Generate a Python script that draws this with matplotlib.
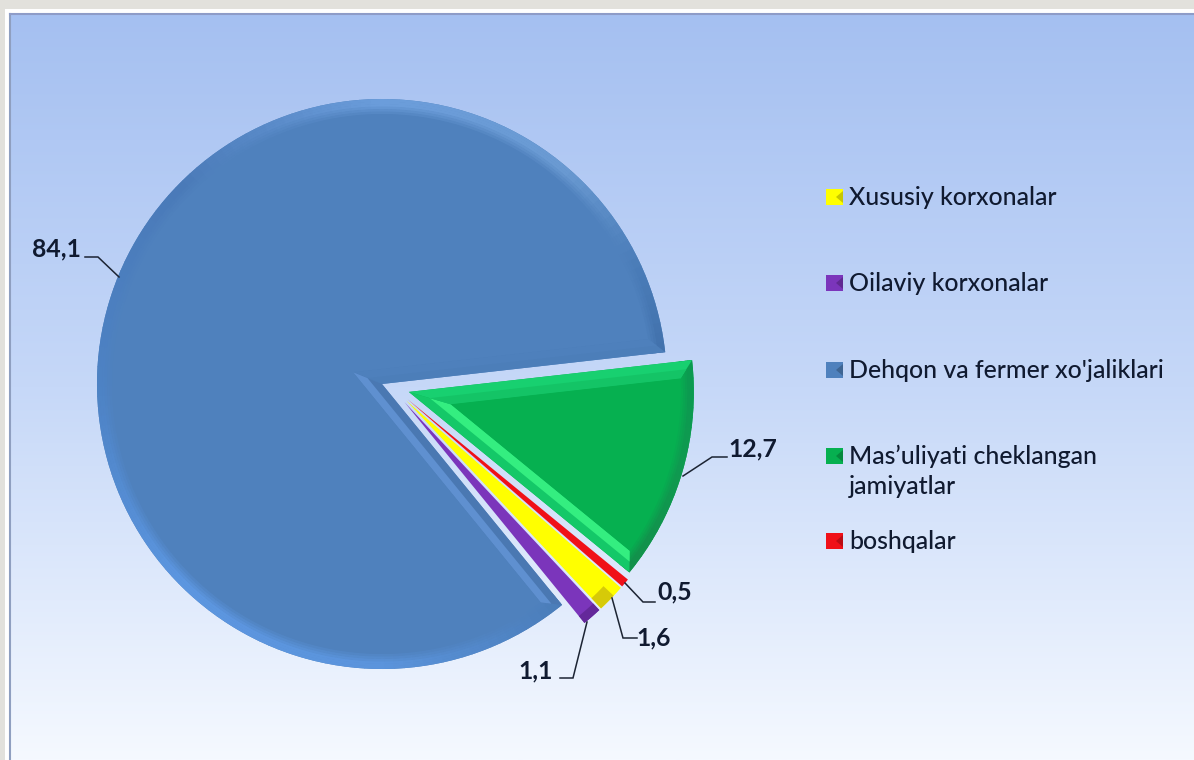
import numpy as np
import matplotlib
matplotlib.use('Agg')
import matplotlib.pyplot as plt
from matplotlib.colors import LinearSegmentedColormap, to_rgb
from matplotlib.patches import Wedge, Polygon, Rectangle

# ── data ──
labels = ['Xususiy korxonalar', 'Oilaviy korxonalar', "Dehqon va fermer xo'jaliklari",
          'Mas\u2019uliyati cheklangan\njamiyatlar', 'boshqalar']
values = [1.6, 1.1, 84.1, 12.7, 0.5]
value_text = ['1,6', '1,1', '84,1', '12,7', '0,5']
colors = ['#ffff00', '#7b35bb', '#4f81bd', '#06b050', '#f01018']

W, H = 1194, 760
TXT = '#101a30'
plt.rcParams['font.family'] = ['Lato', 'DejaVu Sans']


def py(y):
    # picture rows run downwards, the axes upwards
    return H - y


def mix(c1, c2, t):
    return tuple((1 - t) * a + t * b for a, b in zip(to_rgb(c1), to_rgb(c2)))


def pt(c, r, deg):
    return (c[0] + r * np.cos(np.radians(deg)), c[1] + r * np.sin(np.radians(deg)))


def halfway(p, q):
    return ((p[0] + q[0]) / 2, (p[1] + q[1]) / 2)


def strip(ax, a, b, c, d, outer, inner):
    # edge strip a-b (slice edge) to d-c (face side), outer half then inner half
    ax.add_patch(Polygon([a, b, c, d], fc=outer, ec='none'))
    ax.add_patch(Polygon([halfway(a, d), halfway(b, c), c, d], fc=inner, ec='none'))


def bevel(ax, w, face, stops, lo, hi, inset, rim):
    # rim ring, shaded by angle, then the two edge strips and the flat face
    c, r, t1, t2 = w.center, w.r, w.theta1, w.theta2
    ang = [s[0] for s in stops]
    rgb = np.array([to_rgb(s[1]) for s in stops])
    for a in np.arange(t1, t2, 2.0):
        m = (a + 1.0) % 360
        col = [np.interp(m, ang, rgb[:, i]) for i in range(3)]
        end = min(a + 2.2, t2)
        for k in range(6):
            outer = r - rim * k / 6
            blend = 0.0 if k < 3 else (k - 2) / 4
            ax.add_patch(Wedge(c, outer, a, end, width=rim / 6 + 0.5,
                               fc=mix(col, face, blend), ec='none', lw=0))
    half = (t2 - t1) / 2
    mid = t1 + half
    apex_in = pt(c, inset / np.sin(np.radians(half)), mid)
    dt = np.degrees(np.arcsin(inset / (r - rim)))
    arc = np.linspace(t1 + dt, t2 - dt, 200)
    arc_pts = [pt(c, r - rim, a) for a in arc]
    strip(ax, c, pt(c, r, t1), arc_pts[0], apex_in, lo[0], lo[1])
    strip(ax, c, pt(c, r, t2), arc_pts[-1], apex_in, hi[0], hi[1])
    ax.add_patch(Polygon([apex_in] + arc_pts, fc=face, ec='none'))


fig = plt.figure(figsize=(W / 100, H / 100), dpi=100, facecolor='#e2e1dc')
ax = fig.add_axes([0, 0, 1, 1])

# ── panel background ──
ax.add_patch(Rectangle((5, 0), W, py(9), fc='white', ec='none', zorder=0))
bg = LinearSegmentedColormap.from_list('bg', ['#a5c0f1', '#c6d8f8', '#f5f9ff'])
ax.imshow(np.linspace(0, 1, 256).reshape(-1, 1), cmap=bg, aspect='auto',
          extent=(10, W, 0, py(15)), zorder=0.5)
ax.plot([10, 10], [0, py(14)], color='#8f9fc0', lw=1.5, zorder=0.6)
ax.plot([10, W], [py(14), py(14)], color='#8e9cc8', lw=1.5, zorder=0.6)

# ── pie ──
wedges, _ = ax.pie(values, colors=colors, explode=[28, 28, 0, 28, 28], startangle=-41.1,
                   counterclock=False, center=(382, py(384)), radius=285, frame=True,
                   wedgeprops={'lw': 0})
# the thin slices sit slightly off their bisector in the original
for i in (0, 1, 4):
    cx, cy = wedges[i].center
    wedges[i].set_center((cx + 4, cy + 3))

blue_rim = [(0, '#3f6ea8'), (25, '#4a7cb8'), (50, '#6a9ad2'), (90, '#6b9ddb'), (135, '#4a7ab8'),
            (180, '#4d82c4'), (225, '#5c96e0'), (270, '#5b94dc'), (310, '#4a7cb8'), (360, '#3f6ea8')]
green_rim = [(0, '#0c9a50'), (320, '#138f4a'), (345, '#0f9a50'), (360, '#0c9a50')]
bevel(ax, wedges[2], colors[2], blue_rim, ('#4c7eb9', '#4e80bc'), ('#4a78b2', '#5f90d0'), 15, 15)
bevel(ax, wedges[3], colors[3], green_rim, ('#14c868', '#34ee80'), ('#18d070', '#14c466'), 17, 13)

# narrow slices only have a darker end
ax.add_patch(Wedge(wedges[0].center, wedges[0].r, wedges[0].theta1, wedges[0].theta1 + 3.6,
                   width=14, fc='#d6ca08', ec='none'))
ax.add_patch(Wedge(wedges[1].center, wedges[1].r, wedges[1].theta1, wedges[1].theta2,
                   width=9, fc='#64289a', ec='none'))

# ── leader lines and value labels ──
leaders = [
    ([637, 623, 612], [638, 638, 598]),
    ([560, 573, 587], [678, 678, 622]),
    ([85, 98, 119], [257, 257, 277]),
    ([727, 712, 683], [457, 457, 476]),
    ([655, 643, 625], [602, 602, 583]),
]
text_pos = [(636, 638, 'left'), (553, 671, 'right'), (81, 249, 'right'), (728, 449, 'left'), (657, 592, 'left')]
for (lx, ly), (tx, ty, ha), s in zip(leaders, text_pos, value_text):
    ax.plot(lx, [py(v) for v in ly], color='#1c2433', lw=1.1, solid_joinstyle='miter')
    ax.text(tx, py(ty), s, ha=ha, va='center', fontsize=17.8, fontweight='bold', color=TXT)

# ── legend ──
key_y = [197, 283, 370, 456, 541]
for name, col, y in zip(labels, colors, key_y):
    x0, y0 = 826, py(y + 8)
    ax.add_patch(Rectangle((x0, y0), 17, 16, fc=col, ec='none'))
    ax.add_patch(Polygon([(x0 + 17, y0 + 2), (x0 + 17, y0 + 14), (x0 + 10, y0 + 8)],
                         fc=mix(col, 'black', 0.22), ec='none'))
    ax.text(849, py(y - 11), name, ha='left', va='top', fontsize=17.9, color=TXT,
            fontweight='medium', linespacing=1.37)

ax.set_xlim(0, W)
ax.set_ylim(0, H)
ax.set_aspect('auto')
ax.axis('off')

fig.savefig('out.png', dpi=100, facecolor=fig.get_facecolor())
